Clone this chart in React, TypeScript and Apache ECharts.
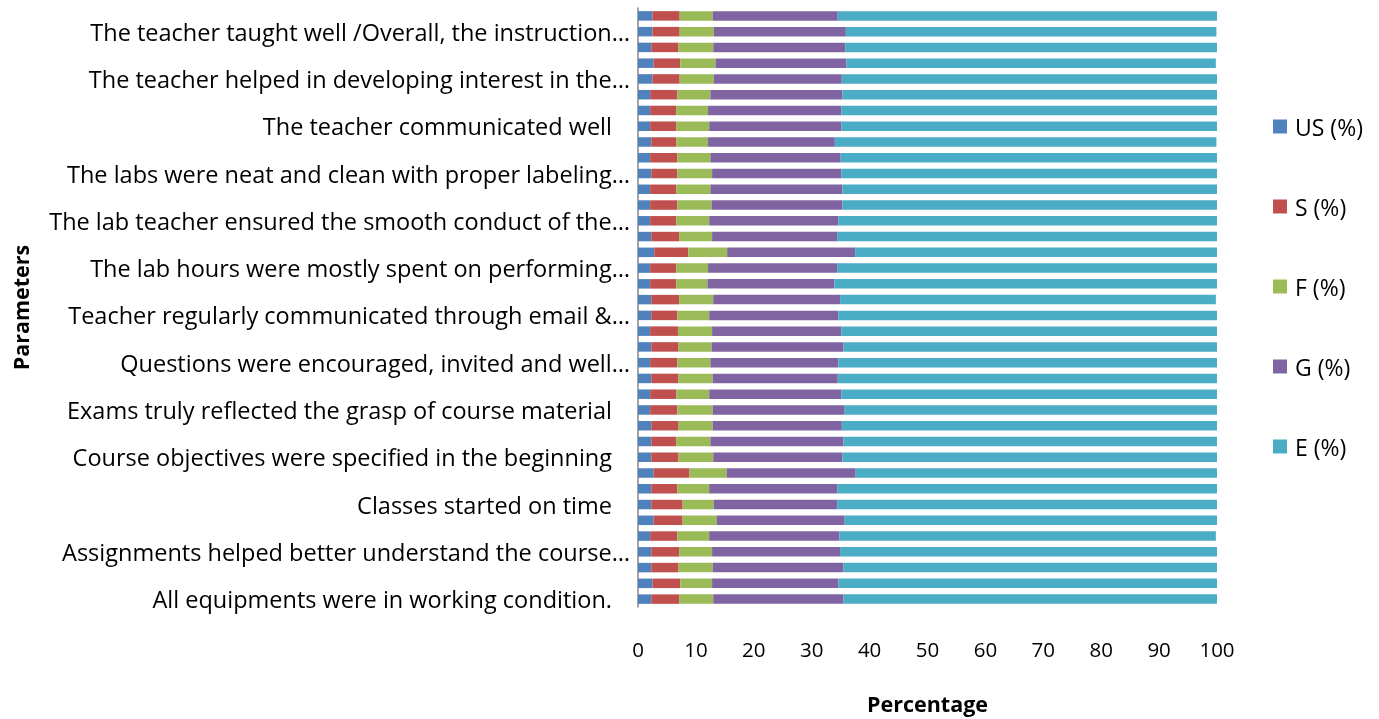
import React, { useEffect, useRef } from "react";
import * as echarts from "echarts";

// index 0 = bottom bar, index 37 = top bar
const categories: string[] = [
  "All equipments were in working condition.", "", "",
  "Assignments helped better understand the course…", "", "",
  "Classes started on time", "", "",
  "Course objectives were specified in the beginning", "", "",
  "Exams truly reflected the grasp of course material", "", "",
  "Questions were encouraged, invited and well…", "", "",
  "Teacher regularly communicated through email &…", "", "",
  "The lab hours were mostly spent on performing…", "", "",
  "The lab teacher ensured the smooth conduct of the…", "", "",
  "The labs were neat and clean with proper labeling…", "", "",
  "The teacher communicated well", "", "",
  "The teacher helped in developing interest in the…", "", "",
  "The teacher taught well /Overall, the instruction…", "",
];

const seriesNames: string[] = ["US (%)", "S (%)", "F (%)", "G (%)", "E (%)"];
const colors: string[] = ["#4F81BD", "#C0504D", "#9BBB59", "#8064A2", "#4BACC6"];

const usValues: number[] = [2.3, 2.5, 2.3, 2.3, 2.1, 2.7, 2.3, 2.3, 2.7, 2.3, 2.3, 2.3, 2.1, 2.1, 2.3, 2.1, 2.3, 2.1, 2.3, 2.3, 2.1, 2.1, 2.8, 2.3, 2.1, 2.1, 2.1, 2.3, 2.1, 2.3, 2.1, 2.1, 2.1, 2.5, 2.7, 2.3, 2.5, 2.5];
const sValues: number[] = [4.8, 4.8, 4.7, 4.8, 4.7, 5.0, 5.4, 4.5, 6.2, 4.7, 4.3, 4.7, 4.7, 4.5, 4.7, 4.7, 4.7, 4.8, 4.5, 4.8, 4.5, 4.5, 5.9, 4.8, 4.5, 4.7, 4.5, 4.5, 4.7, 4.3, 4.5, 4.5, 4.7, 4.7, 4.6, 4.7, 4.7, 4.7];
const fValues: number[] = [5.9, 5.5, 5.9, 5.7, 5.5, 5.9, 5.4, 5.5, 6.4, 6.0, 5.9, 5.9, 6.1, 5.7, 5.9, 5.7, 5.7, 5.9, 5.5, 5.9, 5.4, 5.5, 6.7, 5.7, 5.7, 5.9, 5.9, 6.0, 5.7, 5.5, 5.7, 5.5, 5.7, 5.9, 6.1, 6.0, 5.9, 5.7];
const gValues: number[] = [22.5, 21.8, 22.6, 22.1, 22.5, 22.1, 21.3, 22.1, 22.3, 22.3, 23.0, 22.3, 22.8, 22.8, 21.6, 22.1, 22.8, 22.3, 22.3, 21.9, 21.9, 22.3, 22.1, 21.6, 22.3, 22.6, 22.8, 22.3, 22.5, 21.9, 22.8, 23.0, 22.8, 22.1, 22.6, 22.8, 22.8, 21.6];
const eValues: number[] = [64.5, 65.4, 64.5, 65.1, 65.0, 64.4, 65.7, 65.6, 62.5, 64.7, 64.5, 64.9, 64.4, 64.9, 65.6, 65.4, 64.5, 64.9, 65.4, 64.9, 66.1, 65.6, 62.5, 65.6, 65.4, 64.7, 64.7, 64.9, 65.0, 65.9, 64.9, 64.9, 64.7, 64.9, 63.8, 64.2, 64.0, 65.5];

const xTicks = { min: 0, max: 100, interval: 10 };

const FONT = "Open Sans";
const LABEL_SIZE = 23.5;

export default function App() {
  const ref = useRef<HTMLDivElement>(null);
  useEffect(() => {
    if (!ref.current) return;
    const chart = echarts.init(ref.current, undefined, { renderer: "svg" });
    const all = [usValues, sValues, fValues, gValues, eValues];
    chart.setOption({
      animation: false,
      color: colors,
      textStyle: { fontFamily: FONT },
      grid: { left: 638, top: 8, width: 579, height: 602, containLabel: false },
      legend: {
        orient: "vertical",
        left: 1268,
        top: 110,
        padding: 5,
        itemGap: 57,
        itemWidth: 14,
        itemHeight: 14,
        icon: "rect",
        textStyle: { fontSize: 23, color: "#000", fontFamily: FONT, padding: [0, 0, 0, 3] },
        data: seriesNames,
      },
      xAxis: {
        type: "value",
        min: xTicks.min,
        max: xTicks.max,
        interval: xTicks.interval,
        axisLine: { show: false },
        axisTick: { show: false },
        splitLine: { show: false },
        axisLabel: { fontSize: 20.5, color: "#000", margin: 31, fontFamily: FONT },
        name: "Percentage",
        nameLocation: "middle",
        nameGap: 85,
        nameTextStyle: { fontSize: 21.5, fontWeight: "bold", color: "#000", fontFamily: FONT },
      },
      yAxis: {
        type: "category",
        data: categories,
        axisLine: { show: true, lineStyle: { color: "#868686", width: 1.5 } },
        axisTick: { show: false },
        splitLine: { show: false },
        axisLabel: {
          interval: 2,
          margin: 8,
          color: "#000",
          fontSize: LABEL_SIZE,
          fontFamily: FONT,
          formatter: (v: string) => (v.endsWith("…") ? `{t|${v}}` : `{p|${v}}`),
          rich: {
            t: { fontSize: LABEL_SIZE, color: "#000", fontFamily: FONT },
            p: { fontSize: LABEL_SIZE, color: "#000", fontFamily: FONT, padding: [0, 18, 0, 0] },
          },
        },
        name: "Parameters",
        nameLocation: "middle",
        nameGap: 607,
        nameRotate: 90,
        nameTextStyle: { fontSize: 21.5, fontWeight: "bold", color: "#000", fontFamily: FONT },
      },
      series: seriesNames.map((n, i) => ({
        name: n,
        type: "bar",
        stack: "total",
        barWidth: 9.5,
        data: all[i],
        itemStyle: { color: colors[i] },
      })),
    });
    return () => chart.dispose();
  }, []);
  return <div ref={ref} style={{ position: "fixed", left: 0, top: 0, width: 1379, height: 719 }} />;
}
